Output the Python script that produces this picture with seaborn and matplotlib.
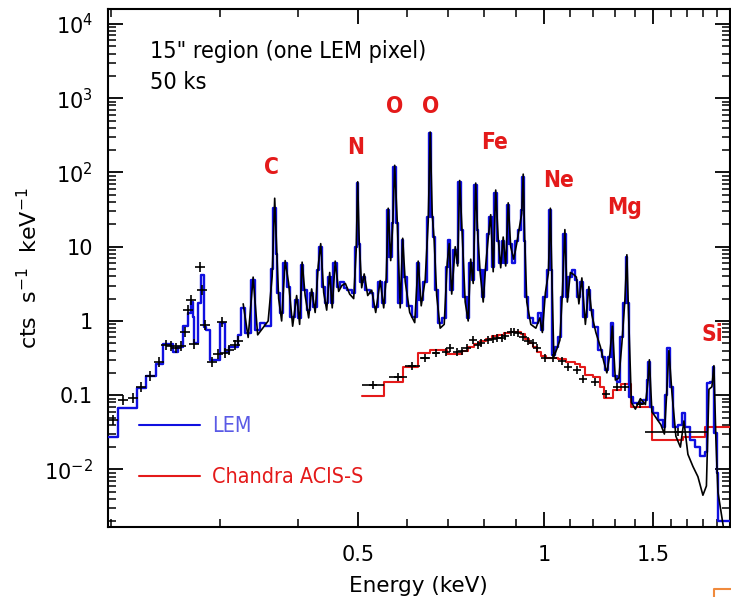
import numpy as np
import pandas as pd
import matplotlib
matplotlib.use("Agg")
import matplotlib.pyplot as plt
import matplotlib.font_manager as fm
from matplotlib.font_manager import FontProperties
from matplotlib.lines import Line2D
from matplotlib.ticker import FixedLocator, LogLocator, NullFormatter
import seaborn as sns

# ---------------- data ----------------
# LEM model spectrum: bin left edges (keV) and model rate (cts/s/keV)
lem_energy = [
    0.1975, 0.2050, 0.2200, 0.2276, 0.2362, 0.2424, 0.2515, 0.2563, 0.2611, 0.2660,
    0.2690, 0.2710, 0.2720, 0.2760, 0.2791, 0.2823, 0.2844, 0.2887, 0.2996, 0.3052,
    0.3098, 0.3204,
    0.3240, 0.3289, 0.3362, 0.3413, 0.3477, 0.3542, 0.3622, 0.3649, 0.3691, 0.3704,
    0.3745, 0.3787, 0.3844, 0.3887, 0.3960, 0.4004, 0.4049, 0.4079, 0.4141, 0.4187,
    0.4234, 0.4298, 0.4330, 0.4379, 0.4428, 0.4477, 0.4528, 0.4562, 0.4629, 0.4681,
    0.4740, 0.4805, 0.4895, 0.4950, 0.4987, 0.5006, 0.5043, 0.5099, 0.5138, 0.5234,
    0.5293, 0.5392, 0.5473, 0.5534, 0.5576, 0.5617, 0.5680, 0.5701, 0.5765, 0.5808,
    0.5895, 0.5917, 0.6006, 0.6119, 0.6233, 0.6280, 0.6374, 0.6470, 0.6518, 0.6566,
    0.6615, 0.6665, 0.6738, 0.6840, 0.6943, 0.6994, 0.7047, 0.7126, 0.7232, 0.7259,
    0.7340, 0.7395, 0.7506, 0.7562, 0.7647, 0.7704, 0.7791, 0.7819, 0.7937, 0.7996,
    0.8085, 0.8146, 0.8237, 0.8299, 0.8392, 0.8454, 0.8550, 0.8613, 0.8710, 0.8774,
    0.8873, 0.8973, 0.9073, 0.9175, 0.9210, 0.9278, 0.9313, 0.9421, 0.9598, 0.9779,
    0.9889, 0.9963, 1.0112, 1.0188, 1.0264, 1.0299, 1.0418, 1.0534, 1.0653, 1.0732,
    1.0852, 1.0933, 1.1098, 1.1222, 1.1305, 1.1432, 1.1560, 1.1733, 1.1865, 1.1998,
    1.2222, 1.2406, 1.2545, 1.2686, 1.2829, 1.2924, 1.3118, 1.3265, 1.3414, 1.3564,
    1.3614, 1.3716, 1.3921, 1.4131, 1.4449, 1.4666, 1.4720, 1.4830, 1.4996, 1.5277,
    1.5565, 1.5680, 1.5798, 1.5975, 1.6154, 1.6457, 1.6704, 1.6892, 1.7208, 1.7532,
    1.7860, 1.8196, 1.8332, 1.8537, 1.8745, 1.8815, 1.9026, 1.9097, 1.9900,
]
lem_model = [
    0.027, 0.068, 0.125, 0.18, 0.265, 0.49, 0.38, 0.45, 0.86, 1.28,
    1.8, 1.13, 0.5, 1.75, 4.2, 0.83, 0.76, 0.30, 0.94, 0.38,
    0.45, 0.65,
    1.5, 0.69, 3.57, 0.76, 0.94, 0.85, 5.0, 33, 8, 2.4,
    1.28, 6.0, 2.9, 1.13, 1.9, 1.1, 5.7, 2.6, 1.4, 2.4,
    1.55, 4.9, 10, 2.9, 1.75, 3.9, 1.75, 6.0, 2.9, 3.3,
    2.8, 2.6, 2.4, 10, 72, 11, 3.3, 3.9, 2.6, 2.4,
    1.55, 3.3, 1.75, 3.3, 31, 7.3, 21, 119, 21, 1.75,
    12.3, 3.9, 1.6, 1.13, 6.0, 1.9, 3.3, 25, 340, 25,
    13.6, 2.6, 0.94, 1.1, 5.3, 12.3, 2.6, 9, 6, 75,
    17, 2.1, 1.1, 6, 3.6, 68, 17, 4.9, 2.1, 4.9,
    15, 25, 5.3, 53, 12, 6, 12, 6, 36, 11,
    6, 12, 17, 31, 87, 12, 2.1, 1.1, 0.94, 1.3,
    0.76, 2.1, 4.9, 31, 4.9, 0.35, 0.45, 0.6, 2.1, 15,
    2.1, 3.9, 4.9, 3.6, 2.1, 3.3, 1.13, 2.6, 1.4, 0.83,
    0.41, 0.33, 0.22, 0.33, 0.94, 0.18, 0.15, 0.6, 1.75, 7.3,
    1.75, 0.095, 0.078, 0.078, 0.086, 0.16, 0.28, 0.07, 0.058, 0.047,
    0.037, 0.1, 0.43, 0.13, 0.037, 0.04, 0.058, 0.037, 0.025, 0.02,
    0.015, 0.017, 0.146, 0.15, 0.24, 0.031, 0.009, 0.002, 0.002,
]

# LEM simulated counts in the same fine channels, above 0.32 keV
lem_data = [
    1.7, 0.6, 3.9, 0.65, 0.8, 1.0, 4.0, 45, 9, 2.0,
    1.0, 6.5, 3.2, 0.85, 2.2, 0.9, 6.2, 2.2, 1.1, 2.7,
    1.3, 5.5, 11, 2.4, 1.4, 4.5, 1.5, 6.4, 2.5, 3.0,
    3.2, 2.3, 2.0, 9, 75, 12, 2.8, 4.3, 2.2, 2.6,
    1.3, 3.5, 1.5, 3.8, 33, 6.5, 19, 125, 23, 1.5,
    13, 3.4, 1.3, 0.95, 6.4, 1.6, 3.6, 22, 350, 28,
    12, 2.2, 0.8, 0.9, 6.0, 11, 2.3, 10, 5.5, 78,
    15, 1.8, 1.0, 6.8, 3.2, 72, 15, 4.4, 1.8, 5.6,
    13, 27, 4.6, 58, 13, 5.2, 13.5, 5.5, 39, 10,
    6.8, 11, 19, 28, 95, 13, 1.8, 0.9, 0.8, 1.1,
    0.7, 2.4, 4.4, 33, 4.2, 0.33, 0.42, 0.55, 2.4, 17,
    1.8, 4.5, 4.2, 3.9, 1.7, 3.8, 0.9, 2.9, 1.2, 0.7,
    0.45, 0.28, 0.2, 0.36, 0.85, 0.16, 0.17, 0.5, 1.9, 7.8,
    1.5, 0.08, 0.065, 0.09, 0.075, 0.15, 0.3, 0.06, 0.05, 0.04,
    0.03, 0.09, 0.4, 0.11, 0.028, 0.02, 0.045, 0.016, 0.011, 0.008,
    0.0045, 0.006, 0.12, 0.13, 0.25, 0.025, 0.005, 0.0015,
]

# LEM binned counts at the lowest energies
lem_bin_energy = [
    0.2012, 0.2088, 0.2168, 0.2234, 0.2310, 0.2388, 0.2451, 0.2496, 0.2543, 0.2592,
    0.2630, 0.2660, 0.2690, 0.2720, 0.2781, 0.2802, 0.2833, 0.2909, 0.2974, 0.3018,
    0.3052, 0.3098, 0.3168, 0.3204,
]
lem_bin_counts = [
    0.046, 0.086, 0.092, 0.13, 0.18, 0.28, 0.48, 0.46, 0.43, 0.46,
    0.71, 1.4, 1.9, 0.49, 5.3, 2.6, 0.88, 0.28, 0.36, 0.97,
    0.37, 0.41, 0.47, 0.54,
]

# Chandra ACIS-S model: bin left edges (keV) and rate
acis_energy = [
    0.5081, 0.5514, 0.5917, 0.6256, 0.6542, 0.6969, 0.7179, 0.7368, 0.7533, 0.7704,
    0.7878, 0.8055, 0.8237, 0.8423, 0.8613, 0.8807, 0.9006, 0.9175, 0.9313, 0.9457,
    0.9598, 0.9743, 0.9889, 1.0075, 1.0534, 1.0852, 1.1222, 1.1432, 1.1647, 1.1998,
    1.2314, 1.2499, 1.2924, 1.3314, 1.3818, 1.4941, 1.6766, 1.8196, 1.9900,
]
acis_model = [
    0.098, 0.15, 0.24, 0.37, 0.41, 0.36, 0.36, 0.40, 0.45, 0.49,
    0.53, 0.58, 0.62, 0.65, 0.68, 0.70, 0.71, 0.66, 0.58, 0.50,
    0.44, 0.38, 0.34, 0.32, 0.31, 0.28, 0.26, 0.24, 0.19, 0.175,
    0.13, 0.093, 0.118, 0.14, 0.069, 0.025, 0.027, 0.037, 0.037,
]

# Chandra ACIS-S simulated counts with bin half-widths (keV)
acis_data_energy = [
    0.5293, 0.5808, 0.6119, 0.6421, 0.6690, 0.6943, 0.7047, 0.7232, 0.7368, 0.7506,
    0.7675, 0.7819, 0.7907, 0.8115, 0.8268, 0.8392, 0.8550, 0.8645, 0.8840, 0.8940,
    0.9073, 0.9244, 0.9421, 0.9598, 0.9743, 1.0037, 1.0340, 1.0693, 1.0933, 1.1305,
    1.1560, 1.2089, 1.2592, 1.3118, 1.3514, 1.4289, 1.6457,
]
acis_data = [
    0.137, 0.176, 0.25, 0.32, 0.37, 0.38, 0.43, 0.38, 0.39, 0.43,
    0.55, 0.48, 0.50, 0.55, 0.57, 0.59, 0.59, 0.63, 0.71, 0.71,
    0.69, 0.61, 0.54, 0.50, 0.43, 0.32, 0.32, 0.29, 0.24, 0.22,
    0.165, 0.15, 0.104, 0.13, 0.13, 0.075, 0.032,
]
acis_halfwidth = [
    0.0217, 0.019, 0.017, 0.012, 0.008, 0.0, 0.0, 0.0, 0.0, 0.0,
    0.0, 0.0, 0.0, 0.0, 0.0, 0.0, 0.0, 0.0, 0.0, 0.0,
    0.0, 0.0, 0.0, 0.0, 0.0, 0.0, 0.0, 0.0, 0.0, 0.0,
    0.0, 0.0, 0.0, 0.0, 0.0, 0.012, 0.19,
]

# Line identifications
element_names = ["C", "N", "O", "O", "Fe", "Ne", "Mg", "Si"]
element_energy = [0.3622, 0.4950, 0.5723, 0.6542, 0.8299, 1.0534, 1.3464, 1.8676]
element_height = [115, 214, 762, 762, 250, 79, 34, 0.65]

x_tick_values = [0.5, 1.0, 1.5]
x_tick_labels = ["0.5", "1", "1.5"]
x_minor_values = [0.2, 0.3, 0.4, 0.6, 0.7, 0.8, 0.9, 1.1, 1.2, 1.3, 1.4, 1.6, 1.7, 1.8, 1.9]
y_tick_values = [1e-2, 1e-1, 1, 10, 1e2, 1e3, 1e4]
y_tick_labels = ["10$^{-2}$", "0.1", "1", "10", "10$^{2}$", "10$^{3}$", "10$^{4}$"]

# the simulated fine-channel counts sit at the centres of the model channels
fine_lo = np.array(lem_energy[22:-1])
fine_hi = np.array(lem_energy[23:])
lem_data_energy = np.sqrt(fine_lo * fine_hi)


# ---------------- fonts ----------------
def find_narrow(bold):
    """Pick an installed condensed / narrow sans face, if there is one."""
    best = None
    for f in fm.fontManager.ttflist:
        name = f.name.lower()
        stretch = f.stretch
        if isinstance(stretch, str):
            is_narrow = stretch in ("condensed", "semi-condensed",
                                    "extra-condensed", "ultra-condensed")
        else:
            is_narrow = stretch < 500
        is_narrow = is_narrow or "narrow" in name or "condensed" in name
        if not is_narrow or f.style != "normal" or "mono" in name:
            continue
        w = f.weight
        if isinstance(w, str):
            w = {"bold": 700, "semibold": 600, "normal": 400, "regular": 400,
                 "light": 300, "medium": 500}.get(w.lower(), 400)
        score = abs(w - (700 if bold else 400)) + (0 if "sans" in name else 50)
        if best is None or score < best[0]:
            best = (score, f.fname)
    return best[1] if best else None


narrow_regular = find_narrow(False)
narrow_bold = find_narrow(True)


def narrow_font(size, bold=False):
    path = narrow_bold if bold else narrow_regular
    if path:
        return FontProperties(fname=path, size=size)
    return FontProperties(family=["Liberation Sans", "DejaVu Sans"], size=size,
                          weight="bold" if bold else "normal")


# ---------------- styling ----------------
sns.set_theme(style="ticks")
plt.rcParams["font.family"] = ["DejaVu Sans"]
plt.rcParams["text.color"] = "black"
plt.rcParams["axes.labelcolor"] = "black"
plt.rcParams["xtick.color"] = "black"
plt.rcParams["ytick.color"] = "black"

BLUE = "#1010e0"
RED = "#e41a1a"
LEM_TEXT = "#5a5ae6"

fig = plt.figure(figsize=(7.31, 5.97), dpi=100)
ax = fig.add_axes([108 / 731, 70 / 597, 621.5 / 731, 518 / 597])

# Chandra model
sns.lineplot(x=acis_energy, y=acis_model, ax=ax, color=RED, lw=1.5,
             drawstyle="steps-post", estimator=None, sort=False, zorder=3)
# LEM model
sns.lineplot(x=lem_energy, y=lem_model, ax=ax, color=BLUE, lw=1.7,
             drawstyle="steps-post", estimator=None, sort=False, zorder=4)
# LEM simulated data
sns.lineplot(x=lem_data_energy, y=lem_data, ax=ax, color="black", lw=1.2,
             estimator=None, sort=False, zorder=5)
ax.errorbar(lem_bin_energy, lem_bin_counts, fmt="+", color="black",
            ms=7, mew=1.2, zorder=6)
ax.errorbar(acis_data_energy, acis_data, xerr=acis_halfwidth, fmt="+",
            color="black", ms=6, mew=1.2, elinewidth=1.2, capsize=0, zorder=6)

ax.set_xscale("log")
ax.set_yscale("log")
ax.set_xlim(0.1975, 1.99)
ax.set_ylim(0.00168, 15900)

ax.xaxis.set_major_locator(FixedLocator(x_tick_values))
ax.set_xticklabels(x_tick_labels)
ax.xaxis.set_minor_locator(FixedLocator(x_minor_values))
ax.xaxis.set_minor_formatter(NullFormatter())
ax.yaxis.set_major_locator(FixedLocator(y_tick_values))
ax.set_yticklabels(y_tick_labels)
ax.yaxis.set_minor_locator(LogLocator(base=10, subs=np.arange(2, 10), numticks=20))
ax.yaxis.set_minor_formatter(NullFormatter())

ax.tick_params(which="both", direction="in", top=True, right=True,
               colors="black", labelcolor="black")
ax.tick_params(which="major", length=11, width=1.3, labelsize=15)
ax.tick_params(which="minor", length=6, width=1.1)
ax.tick_params(axis="x", which="major", pad=13)
ax.tick_params(axis="y", which="major", pad=11)
for sp in ax.spines.values():
    sp.set_linewidth(1.5)
    sp.set_color("black")

ax.set_xlabel("Energy (keV)", fontsize=15.5, labelpad=8, color="black")
ax.set_ylabel("cts  s$^{-1}$  keV$^{-1}$", fontsize=16, labelpad=2, color="black")

# Scale the narrow texts so that the legend label spans its measured width
probe = fig.text(0, 0, "Chandra ACIS-S", fontproperties=narrow_font(18))
fig.canvas.draw()
scale = 151.0 / probe.get_window_extent(fig.canvas.get_renderer()).width
probe.remove()
s_head = 19.5 * scale
s_leg = 18 * scale
s_elem = 19 * scale

ax.text(0.068, 0.917, "15\" region (one LEM pixel)", transform=ax.transAxes,
        fontproperties=narrow_font(s_head), ha="left", va="center", color="black")
ax.text(0.068, 0.859, "50 ks", transform=ax.transAxes,
        fontproperties=narrow_font(s_head), ha="left", va="center", color="black")
for name, e, h in zip(element_names, element_energy, element_height):
    ax.text(e, h, name, color=RED, fontproperties=narrow_font(s_elem, bold=True),
            ha="center", va="center", zorder=7)

handles = [Line2D([], [], color=BLUE, lw=1.5), Line2D([], [], color=RED, lw=1.5)]
leg = ax.legend(handles, ["LEM", "Chandra ACIS-S"], loc="upper left",
                bbox_to_anchor=(0.05, 0.214), frameon=False, borderpad=0,
                borderaxespad=0, handlelength=61 / (s_leg * 100 / 72),
                handletextpad=12 / (s_leg * 100 / 72),
                labelspacing=1.45, prop=narrow_font(s_leg))
leg.get_texts()[0].set_color(LEM_TEXT)
leg.get_texts()[1].set_color(RED)

# small corner bracket
fig.add_artist(Line2D([714 / 731, 714 / 731, 1.0], [0.0, 8 / 597, 8 / 597],
                      transform=fig.transFigure, color="#f08a3c", lw=1.5))

fig.savefig("out.png", dpi=100, facecolor="white")
